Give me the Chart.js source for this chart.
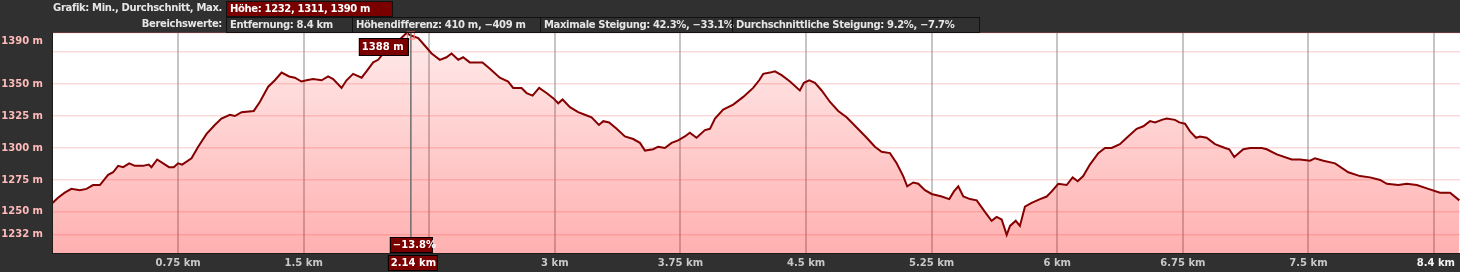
<!DOCTYPE html>
<html><head><meta charset="utf-8">
<script src="https://cdn.jsdelivr.net/npm/chart.js@4.4.1/dist/chart.umd.min.js"></script>
<style>
html,body{margin:0;padding:0;background:#303030;}
#wrap{position:relative;width:1460px;height:272px;background:#303030;overflow:hidden;}
canvas{position:absolute;left:0;top:0;}
.hd{position:absolute;font:bold 10px "DejaVu Sans",sans-serif;letter-spacing:-0.35px;color:#e6e6e6;white-space:nowrap;height:16px;line-height:14px;box-sizing:border-box;}
.lbl{text-align:right;}
.box{border:1px solid #111;padding-left:3px;}
.red{background:#7a0000;color:#fff;}
</style></head>
<body><div id="wrap">
<canvas id="c" width="1460" height="272"></canvas>
<div class="hd lbl" style="left:0;width:222px;top:1px;">Grafik: Min., Durchschnitt, Max.</div>
<div class="hd box red" style="left:226px;width:167px;top:1px;">Höhe: 1232, 1311, 1390 m</div>
<div class="hd lbl" style="left:0;width:222px;top:17px;">Bereichswerte:</div>
<div class="hd box" style="left:226px;width:127px;top:17px;">Entfernung: 8.4 km</div>
<div class="hd box" style="left:352px;width:189px;top:17px;">Höhendifferenz: 410 m, −409 m</div>
<div class="hd box" style="left:540px;width:193px;top:17px;">Maximale Steigung: 42.3%, −33.1%</div>
<div class="hd box" style="left:732px;width:248px;top:17px;">Durchschnittliche Steigung: 9.2%, −7.7%</div>
</div>
<script>
const distKm = [0,0.033,0.073,0.113,0.163,0.203,0.242,0.283,0.332,0.362,0.392,0.422,0.458,0.492,0.541,0.575,0.591,0.625,0.661,0.696,0.724,0.750,0.774,0.830,0.870,0.920,0.969,1.009,1.059,1.089,1.129,1.202,1.238,1.288,1.328,1.368,1.413,1.447,1.487,1.517,1.556,1.607,1.646,1.676,1.726,1.756,1.795,1.846,1.875,1.915,1.945,1.975,2.015,2.074,2.114,2.14,2.184,2.224,2.264,2.313,2.353,2.383,2.423,2.452,2.492,2.532,2.568,2.612,2.671,2.721,2.751,2.801,2.831,2.867,2.906,2.950,2.990,3.020,3.046,3.090,3.139,3.179,3.219,3.263,3.289,3.324,3.369,3.418,3.468,3.508,3.538,3.587,3.617,3.657,3.697,3.736,3.776,3.806,3.846,3.896,3.926,3.956,4.005,4.065,4.125,4.184,4.220,4.244,4.284,4.314,4.354,4.404,4.463,4.487,4.519,4.553,4.593,4.643,4.692,4.742,4.802,4.862,4.911,4.951,5.001,5.041,5.080,5.104,5.140,5.170,5.210,5.250,5.310,5.355,5.383,5.409,5.439,5.479,5.519,5.568,5.608,5.638,5.668,5.698,5.718,5.752,5.777,5.807,5.847,5.897,5.937,5.967,6.006,6.056,6.092,6.122,6.155,6.195,6.245,6.285,6.325,6.374,6.415,6.474,6.514,6.554,6.584,6.624,6.653,6.703,6.729,6.763,6.793,6.829,6.852,6.892,6.942,7.002,7.027,7.057,7.111,7.151,7.221,7.251,7.311,7.400,7.450,7.510,7.539,7.589,7.659,7.738,7.808,7.868,7.928,7.968,8.037,8.087,8.147,8.216,8.286,8.346,8.401];
const elevM = [1257,1261,1265,1268,1267,1268,1271,1271,1279,1281,1286,1285,1288,1286,1286,1287,1285,1291,1288,1285,1285,1288,1287,1292,1301,1311,1318,1323,1326,1325,1328,1329,1336,1348,1353,1359,1356,1355,1352,1353,1354,1353,1356,1354,1347,1353,1358,1355,1360,1367,1369,1374,1379,1385,1390,1388,1386,1380,1374,1369,1371,1374,1369,1371,1367,1367,1367,1362,1355,1352,1347,1347,1343,1341,1347,1343,1339,1335,1338,1332,1328,1326,1324,1318,1321,1320,1315,1309,1307,1304,1298,1299,1301,1300,1304,1306,1309,1312,1308,1314,1315,1323,1330,1334,1340,1347,1353,1358,1359,1360,1357,1352,1345,1351,1353,1351,1345,1336,1329,1324,1316,1308,1301,1297,1296,1288,1278,1270,1273,1272,1267,1264,1262,1260,1266,1270,1262,1260,1259,1250,1243,1246,1244,1232,1239,1243,1239,1254,1257,1260,1262,1266,1272,1271,1277,1274,1278,1287,1296,1300,1300,1303,1308,1315,1317,1321,1320,1322,1323,1322,1320,1319,1313,1308,1309,1308,1303,1300,1299,1293,1299,1300,1300,1299,1295,1291,1291,1290,1292,1290,1288,1281,1278,1277,1275,1272,1271,1272,1271,1268,1265,1265,1259];
const xTickValues = [0.75,1.5,2.25,3,3.75,4.5,5.25,6,6.75,7.5,8.25];
const xTickLabels = ['0.75 km','1.5 km','','3 km','3.75 km','4.5 km','5.25 km','6 km','6.75 km','7.5 km',''];
const xEndLabel = '8.4 km';
const yTickValues = [1232,1250,1275,1300,1325,1350,1375,1390];
const yTickLabels = ['1232 m','1250 m','1275 m','1300 m','1325 m','1350 m','','1390 m'];
const xMin = 0, xMax = 8.405, yMin = 1217.8, yMax = 1390;
const cursorKm = 2.14, cursorElev = 1388;
const cursorElevLabel = '1388 m', cursorGradeLabel = '−13.8%', cursorKmLabel = '2.14 km';

const FONT = 'bold 10px "DejaVu Sans", sans-serif';

function box(ctx, x, y, w, h, text) {
  ctx.fillStyle = '#7a0000'; ctx.fillRect(x, y, w, h);
  ctx.strokeStyle = '#000'; ctx.lineWidth = 1; ctx.strokeRect(x + 0.5, y + 0.5, w - 1, h - 1);
  ctx.fillStyle = '#fff'; ctx.textAlign = 'left'; ctx.textBaseline = 'middle';
  ctx.fillText(text, x + 3, y + h / 2 + 0.5);
}

const bgPlugin = {
  id: 'bg',
  beforeDraw(chart) {
    const {ctx, chartArea: a} = chart;
    ctx.save(); ctx.fillStyle = '#ffffff';
    ctx.fillRect(a.left, a.top, a.right - a.left, a.bottom - a.top);
    ctx.restore();
  }
};

const overlay = {
  id: 'overlay',
  afterDraw(chart) {
    const {ctx, chartArea: a, scales: {x, y}} = chart;
    ctx.save();
    ctx.font = FONT; ctx.fillStyle = '#ffbaba'; ctx.textAlign = 'right'; ctx.textBaseline = 'middle';
    yTickValues.forEach((v, i) => {
      if (!yTickLabels[i]) return;
      let py = Math.max(y.getPixelForValue(v), a.top + 8);
      ctx.fillText(yTickLabels[i], 43, py);
    });
    ctx.fillStyle = '#f2f2f2'; ctx.textAlign = 'right';
    ctx.fillText(xEndLabel, a.right - 5, 263);
    const cx = x.getPixelForValue(cursorKm);
    ctx.strokeStyle = '#6e6e6e'; ctx.lineWidth = 1.5;
    ctx.beginPath(); ctx.moveTo(cx, a.top); ctx.lineTo(cx, a.bottom); ctx.stroke();
    const cy = y.getPixelForValue(cursorElev);
    ctx.strokeStyle = '#ff7373'; ctx.lineWidth = 1;
    ctx.strokeRect(cx - 3.5, cy - 3.5, 7, 7);
    ctx.font = FONT;
    box(ctx, cx - 52, 38, 50, 18, cursorElevLabel);
    box(ctx, cx - 21, 237, 43, 16, cursorGradeLabel);
    box(ctx, cx - 23, 255, 50, 16, cursorKmLabel);
    ctx.restore();
  }
};

new Chart(document.getElementById('c'), {
  type: 'line',
  data: {
    datasets: [{
      data: distKm.map((d, i) => ({x: d, y: elevM[i]})),
      borderColor: '#850000',
      borderWidth: 2,
      pointRadius: 0,
      tension: 0,
      fill: 'start',
      backgroundColor: (context) => {
        const a = context.chart.chartArea;
        if (!a) return 'rgba(255,0,0,0.2)';
        const g = context.chart.ctx.createLinearGradient(0, a.top, 0, a.bottom);
        g.addColorStop(0, 'rgba(255,0,0,0.08)');
        g.addColorStop(1, 'rgba(255,0,0,0.31)');
        return g;
      }
    }]
  },
  options: {
    responsive: false,
    animation: false,
    events: [],
    layout: {padding: {top: 33, left: 0, right: 0, bottom: 0}},
    plugins: {legend: {display: false}, tooltip: {enabled: false}},
    scales: {
      x: {
        type: 'linear', min: xMin, max: xMax,
        afterBuildTicks: (s) => { s.ticks = xTickValues.map(v => ({value: v})); },
        afterFit: (s) => { s.height = 19; },
        grid: {color: 'rgba(150,150,150,0.55)', lineWidth: 2, drawTicks: false},
        border: {color: '#1c1c1c', width: 1},
        ticks: {
          autoSkip: false, maxRotation: 0, padding: 4, color: '#c8c8c8',
          font: {family: 'DejaVu Sans', weight: 'bold', size: 10},
          callback: (v, i) => xTickLabels[i]
        }
      },
      y: {
        type: 'linear', min: yMin, max: yMax,
        afterBuildTicks: (s) => { s.ticks = yTickValues.map(v => ({value: v})); },
        afterFit: (s) => { s.width = 52.5; },
        grid: {color: 'rgba(245,100,100,0.24)', lineWidth: 1.5, drawTicks: false},
        border: {color: '#1c1c1c', width: 1},
        ticks: {display: false}
      }
    }
  },
  plugins: [bgPlugin, overlay]
});
</script>
</body></html>
